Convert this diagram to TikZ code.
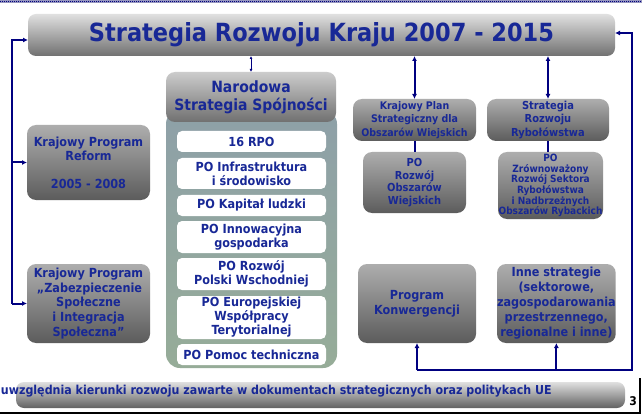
\documentclass[tikz,border=0pt]{standalone}
\usepackage{fontspec}
\newfontfamily\tf{DejaVu Sans Condensed Bold}
\usetikzlibrary{arrows.meta}
\definecolor{tblue}{RGB}{24,40,150}
\definecolor{navyl}{RGB}{0,0,128}
\definecolor{ctop}{RGB}{142,160,168}
\definecolor{cmid}{RGB}{136,138,196}
\definecolor{cbot}{RGB}{150,172,152}
\definecolor{stripe}{RGB}{150,150,190}
\newcommand{\fs}[2]{\fontsize{#1}{#2}\selectfont}
\begin{document}
\begin{tikzpicture}[x=1pt,y=-1pt,
  every node/.style={font=\tf, text=tblue, align=center, inner sep=0pt, outer sep=0pt},
  gbox/.style={rounded corners=9pt, top color=black!32, middle color=black!6, bottom color=black!64, anchor=north west},
  tbox/.style={rounded corners=8pt, top color=black!12, middle color=black!28, bottom color=black!56, anchor=north west},
  hbox/.style={rounded corners=9pt, top color=black!20, bottom color=black!56, anchor=north west},
  wbox/.style={rounded corners=5pt, fill=white, anchor=north west, minimum width=149pt, font=\tf\fs{12.5}{14}},
  conn/.style={draw=navyl, line width=2pt},
  arr/.style={conn, -{Latex[length=5pt,width=5pt]}},
  darr/.style={conn, {Latex[length=5pt,width=5pt]}-{Latex[length=5pt,width=5pt]}},
  sarr/.style={draw=navyl, line width=1pt, {Latex[length=3pt,width=3pt]}-{Latex[length=3pt,width=3pt]}}]
\useasboundingbox (0,0) rectangle (642,414);
\fill[white] (0,0) rectangle (642,414);
% top stripe
\fill[stripe] (0,0) rectangle (642,3);
\draw[navyl, line width=1pt, dash pattern=on 1pt off 1pt] (0,1.5) -- (642,1.5);
% frame bits
\draw[black, line width=1.5pt] (640,378) -- (640,413) -- (0,413);
\node[text=black, font=\tf\fs{12}{14}] (pnum) at (633,401) {3};

% title
\node[tbox, minimum width=587pt, minimum height=42pt, font=\tf\fs{25}{28}] (title) at (28,14)
  {Strategia Rozwoju Kraju 2007 - 2015};

% left boxes
\node[gbox, minimum width=123pt, minimum height=75pt, font=\tf\fs{12.5}{14}] (kpr) at (27,125)
  {Krajowy Program\\Reform\\[14pt]2005 - 2008};
\node[gbox, minimum width=123pt, minimum height=79pt, font=\tf\fs{12.5}{14.7}] (kpz) at (27,264)
  {Krajowy Program\\\,\char"201E Zabezpieczenie\\Spo\l eczne\\i Integracja\\Spo\l eczna\char"201D};

% NSS container
\node[anchor=north west, rounded corners=14pt, top color=ctop, middle color=cmid, bottom color=cbot,
  minimum width=171pt, minimum height=258pt] (nssbody) at (166,110) {};
\node[hbox, minimum width=170pt, minimum height=50pt, font=\tf\fs{15.5}{18}] (nss) at (166,72)
  {Narodowa\\Strategia Spójności};
\node[wbox, minimum height=21pt] (rpo) at (177,131) {16 RPO};
\node[wbox, minimum height=31pt] (pois) at (177,158) {PO Infrastruktura\\i środowisko};
\node[wbox, minimum height=21pt] (pokl) at (177,195) {PO Kapitał ludzki};
\node[wbox, minimum height=32pt] (poig) at (177,221) {PO Innowacyjna\\gospodarka};
\node[wbox, minimum height=32pt] (porpw) at (177,258) {PO Rozwój\\Polski Wschodniej};
\node[wbox, minimum height=43pt] (poewt) at (177,296) {PO Europejskiej\\Współpracy\\Terytorialnej};
\node[wbox, minimum height=21pt] (popt) at (177,344) {PO Pomoc techniczna};

% right upper
\node[gbox, minimum width=123pt, minimum height=42pt, font=\tf\fs{10.5}{13.5}] (kps) at (353,99)
  {Krajowy Plan\\Strategiczny dla\\Obszarów Wiejskich};
\node[gbox, minimum width=122pt, minimum height=42pt, font=\tf\fs{11}{13.5}] (srr) at (487,99)
  {Strategia\\Rozwoju\\Rybołówstwa};
\node[gbox, minimum width=103pt, minimum height=61pt, font=\tf\fs{11}{12.7}] (prow) at (363,152)
  {PO\\Rozwój\\Obszarów\\Wiejskich};
\node[gbox, minimum width=105pt, minimum height=67pt, font=\tf\fs{10}{10.6}] (poz) at (498,152)
  {PO\\Zrównoważony\\Rozwój Sektora\\Rybołówstwa\\i Nadbrzeżnych\\Obszarów Rybackich};

% right lower
\node[gbox, minimum width=118pt, minimum height=79pt, font=\tf\fs{12.5}{15}] (pk) at (358,264)
  {Program\\Konwergencji};
\node[gbox, minimum width=118pt, minimum height=79pt, font=\tf\fs{12.5}{15}] (inne) at (497,264)
  {Inne strategie\\(sektorowe,\\zagospodarowania\\przestrzennego,\\regionalne i inne)};

% bottom bar
\node[anchor=north west, rounded corners=8pt, top color=black!12, middle color=black!35, bottom color=black!62,
  minimum width=609pt, minimum height=26pt] (bar) at (16,382) {};
\node[anchor=west, font=\tf\fs{12.3}{14}] (bartext) at (1,391)
  {uwzględnia kierunki rozwoju zawarte w dokumentach strategicznych oraz politykach UE};

% connectors
\coordinate (ltop) at (12,40);
\coordinate (rtop) at (632,33);
\coordinate (rbot) at (632,370);
\draw[arr] (kpz.west -| ltop) -- (ltop) -- (ltop -| title.west);
\draw[arr] (kpr.west -| ltop) -- (kpr.west);
\draw[arr] (kpz.west -| ltop) -- (kpz.west);
\draw[arr] (pk.south |- rbot) -- (rbot) -- (rtop) -- (title.east |- rtop);
\draw[arr] (pk.south |- rbot) -- (pk.south);
\draw[arr] (inne.south |- rbot) -- (inne.south);
\draw[sarr] (nss.north |- title.south) -- (nss.north);
\draw[darr] (kps.north |- title.south) -- (kps.north);
\draw[darr] (srr.north |- title.south) -- (srr.north);
\draw[conn] (kps.south) -- (kps.south |- prow.north);
\draw[conn] (srr.south) -- (srr.south |- poz.north);
\end{tikzpicture}
\end{document}
